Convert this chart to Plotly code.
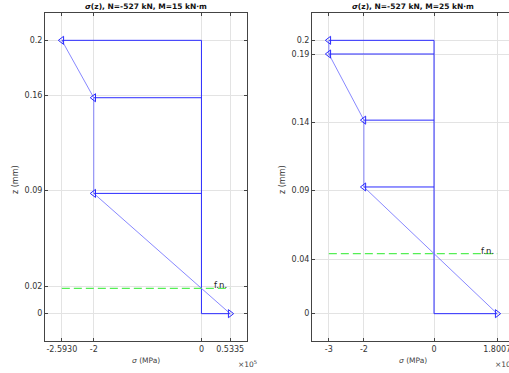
import plotly.graph_objects as go

# ---- data ----
titles = ["<i>σ</i>(z), N=-527 kN, M=15 kN·m", "<i>σ</i>(z), N=-527 kN, M=25 kN·m"]
z_L = [0.2, 0.158, 0.088, 0.0]
sig_L = [-2.5930, -2.0, -2.0, 0.5335]
fn_L = 0.0185
xt_L = [-2.5930, -2.0, 0.0, 0.5335]
xtt_L = ["-2.5930", "-2", "0", "0.5335"]
yt_L = [0.0, 0.02, 0.09, 0.16, 0.2]
ytt_L = ["0", "0.02", "0.09", "0.16", "0.2"]

z_R = [0.2, 0.19, 0.1416, 0.0927, 0.0]
sig_R = [-3.0, -3.0, -2.0, -2.0, 1.8007]
fn_R = 0.044
xt_R = [-3.0, -2.0, 0.0, 1.8007]
xtt_R = ["-3", "-2", "0", "1.8007"]
yt_R = [0.0, 0.04, 0.09, 0.14, 0.19, 0.2]
ytt_R = ["0", "0.04", "0.09", "0.14", "0.19", "0.2"]

W, H = 515, 373
FONT = "DejaVu Sans"
BLUE = "#2b2bff"
LBLUE = "#6a6aff"
GREEN = "#55ee55"

fig = go.Figure()

panels = [
    (z_L, sig_L, fn_L, xt_L, xtt_L, yt_L, ytt_L, (45, 247), 236, "x", "y"),
    (z_R, sig_R, fn_R, xt_R, xtt_R, yt_R, ytt_R, (312, 514), 493, "x2", "y2"),
]

for i, (z, s, fn, xt, xtt, yt, ytt, (px0, px1), pexp, xa, ya) in enumerate(panels):
    fig.add_trace(go.Scatter(x=[0, 0], y=[min(z), max(z)], mode="lines",
                             line=dict(color=BLUE, width=1), xaxis=xa, yaxis=ya,
                             showlegend=False, hoverinfo="skip"))
    for zz, ss in zip(z, s):
        fig.add_trace(go.Scatter(x=[0, ss], y=[zz, zz], mode="lines",
                                 line=dict(color=BLUE, width=1), xaxis=xa, yaxis=ya,
                                 showlegend=False, hoverinfo="skip"))
    fig.add_trace(go.Scatter(x=s, y=z, mode="lines",
                             line=dict(color=LBLUE, width=0.8), xaxis=xa, yaxis=ya,
                             showlegend=False, hoverinfo="skip"))
    syms = ["triangle-left-open" if v < 0 else "triangle-right-open" for v in s]
    fig.add_trace(go.Scatter(x=s, y=z, mode="markers",
                             marker=dict(symbol=syms, size=7, color=BLUE,
                                         line=dict(width=1, color=BLUE)),
                             xaxis=xa, yaxis=ya, showlegend=False, hoverinfo="skip"))
    fig.add_trace(go.Scatter(x=[min(s), max(s)], y=[fn, fn], mode="lines",
                             line=dict(color=GREEN, width=1.3, dash="8px,4px"),
                             xaxis=xa, yaxis=ya, showlegend=False, hoverinfo="skip"))
    span = max(s) - min(s)
    xr = [min(s) - 0.1 * span, max(s) + 0.1 * span]
    common = dict(showline=True, linecolor="#444", linewidth=1, mirror="ticks",
                  ticks="inside", ticklen=3, tickcolor="#444",
                  showgrid=True, gridcolor="#e3e3e3", gridwidth=1, zeroline=False,
                  tickfont=dict(family=FONT, size=8, color="#333"))
    xkey = "xaxis" if xa == "x" else "xaxis2"
    ykey = "yaxis" if ya == "y" else "yaxis2"
    fig.update_layout(**{
        xkey: dict(domain=[px0 / W, px1 / W], range=xr, tickvals=xt, ticktext=xtt,
                   anchor=ya, **common),
        ykey: dict(domain=[32 / H, 1 - 13 / H], range=[-0.02, 0.22], tickvals=yt,
                   ticktext=ytt, anchor=xa, **common),
    })
    fig.add_annotation(x=max(s) - 0.06 * span, y=fn, xref=xa, yref=ya, text="f.n.",
                       showarrow=False, yshift=3, xanchor="center",
                       font=dict(family=FONT, size=8.5, color="#222"))
    fig.add_annotation(x=(px0 + px1) / 2 / W, y=1 - 6 / H, xref="paper", yref="paper",
                       text="<b>" + titles[i] + "</b>", showarrow=False,
                       xanchor="center", yanchor="middle",
                       font=dict(family=FONT, size=7.5, color="#111"))
    fig.add_annotation(x=(px0 + px1) / 2 / W, y=1 - 360 / H, xref="paper", yref="paper",
                       text="<i>σ</i> (MPa)", showarrow=False,
                       xanchor="center", yanchor="middle",
                       font=dict(family=FONT, size=7.5, color="#444"))
    fig.add_annotation(x=pexp / W, y=1 - 364 / H, xref="paper", yref="paper",
                       text="×10<sup>5</sup>", showarrow=False,
                       xanchor="left", yanchor="middle",
                       font=dict(family=FONT, size=7.5, color="#444"))
    fig.add_annotation(x=(px0 - 30) / W, y=1 - 180 / H, xref="paper", yref="paper",
                       text="z (mm)", textangle=-90, showarrow=False,
                       xanchor="center", yanchor="middle",
                       font=dict(family=FONT, size=8, color="#333"))

fig.update_layout(width=W, height=H, margin=dict(l=0, r=0, t=0, b=0),
                  paper_bgcolor="white", plot_bgcolor="white",
                  font=dict(family=FONT))

fig.write_html("out.html",
               post_script="document.body.style.overflow='hidden';document.documentElement.style.overflow='hidden';")
